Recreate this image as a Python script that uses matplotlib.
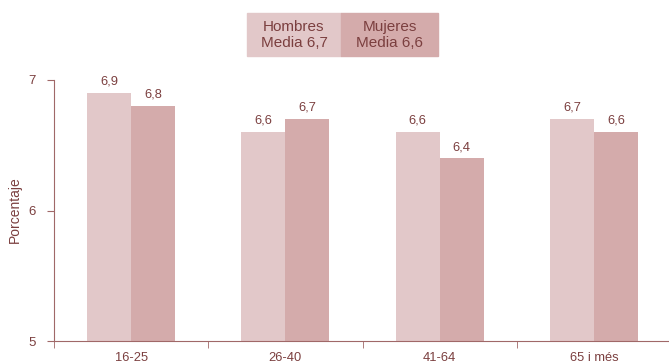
import numpy as np
import matplotlib.pyplot as plt
from matplotlib.patches import Rectangle

plt.rcParams['font.family'] = ['Liberation Sans', 'DejaVu Sans']

# data
categories = ['16-25', '26-40', '41-64', '65 i més']
hombres = [6.9, 6.6, 6.6, 6.7]
mujeres = [6.8, 6.7, 6.4, 6.6]
legend_labels = ['Hombres\nMedia 6,7', 'Mujeres\nMedia 6,6']

c_h = '#e2c8c9'
c_m = '#d4abab'
txt = '#7b3f3f'
axc = '#a06868'

fig = plt.figure(figsize=(6.69, 3.61), dpi=100)
ax = fig.add_axes([54 / 669, 1 - 341 / 361, 617 / 669, (341 - 80) / 361])

x = np.arange(len(categories))
w = 0.285
b1 = ax.bar(x - w / 2, hombres, w, bottom=0, color=c_h)
b2 = ax.bar(x + w / 2, mujeres, w, bottom=0, color=c_m)

for bars, vals in ((b1, hombres), (b2, mujeres)):
    for r, v in zip(bars, vals):
        ax.text(r.get_x() + r.get_width() / 2, v + 0.04, f'{v:.1f}'.replace('.', ','),
                ha='center', va='bottom', fontsize=9.3, color=txt)

ax.set_ylim(5, 7)
ax.set_xlim(-0.5, len(categories) - 0.5)
ax.set_yticks([5, 6, 7])
fig.text(15 / 669, 1 - 210 / 361, 'Porcentaje', rotation=90, ha='center', va='center',
         fontsize=10, color=txt)

ax.set_xticks(x)
ax.set_xticklabels(categories, fontsize=9.3, color=txt)
ax.set_xticks(np.arange(-0.5, len(categories)), minor=True)
ax.tick_params(axis='x', which='major', length=0, pad=8)
ax.tick_params(axis='x', which='minor', length=5, color=axc, direction='out')
ax.tick_params(axis='y', length=5, color=axc, labelsize=9.5, labelcolor=txt, pad=8)

for s in ['top', 'right']:
    ax.spines[s].set_visible(False)
for s in ['left', 'bottom']:
    ax.spines[s].set_color(axc)

# legend boxes
boxes = [(247, 94, c_h), (341, 97, c_m)]
for (x0, wpx, col), lab in zip(boxes, legend_labels):
    fig.patches.append(Rectangle((x0 / 669, 1 - 56 / 361), wpx / 669, 43 / 361,
                                 transform=fig.transFigure, color=col, zorder=0))
    fig.text((x0 + wpx / 2) / 669, 1 - 35 / 361, lab, ha='center', va='center',
             fontsize=11, color=txt, linespacing=1.2)

plt.savefig('out.png', dpi=100)
